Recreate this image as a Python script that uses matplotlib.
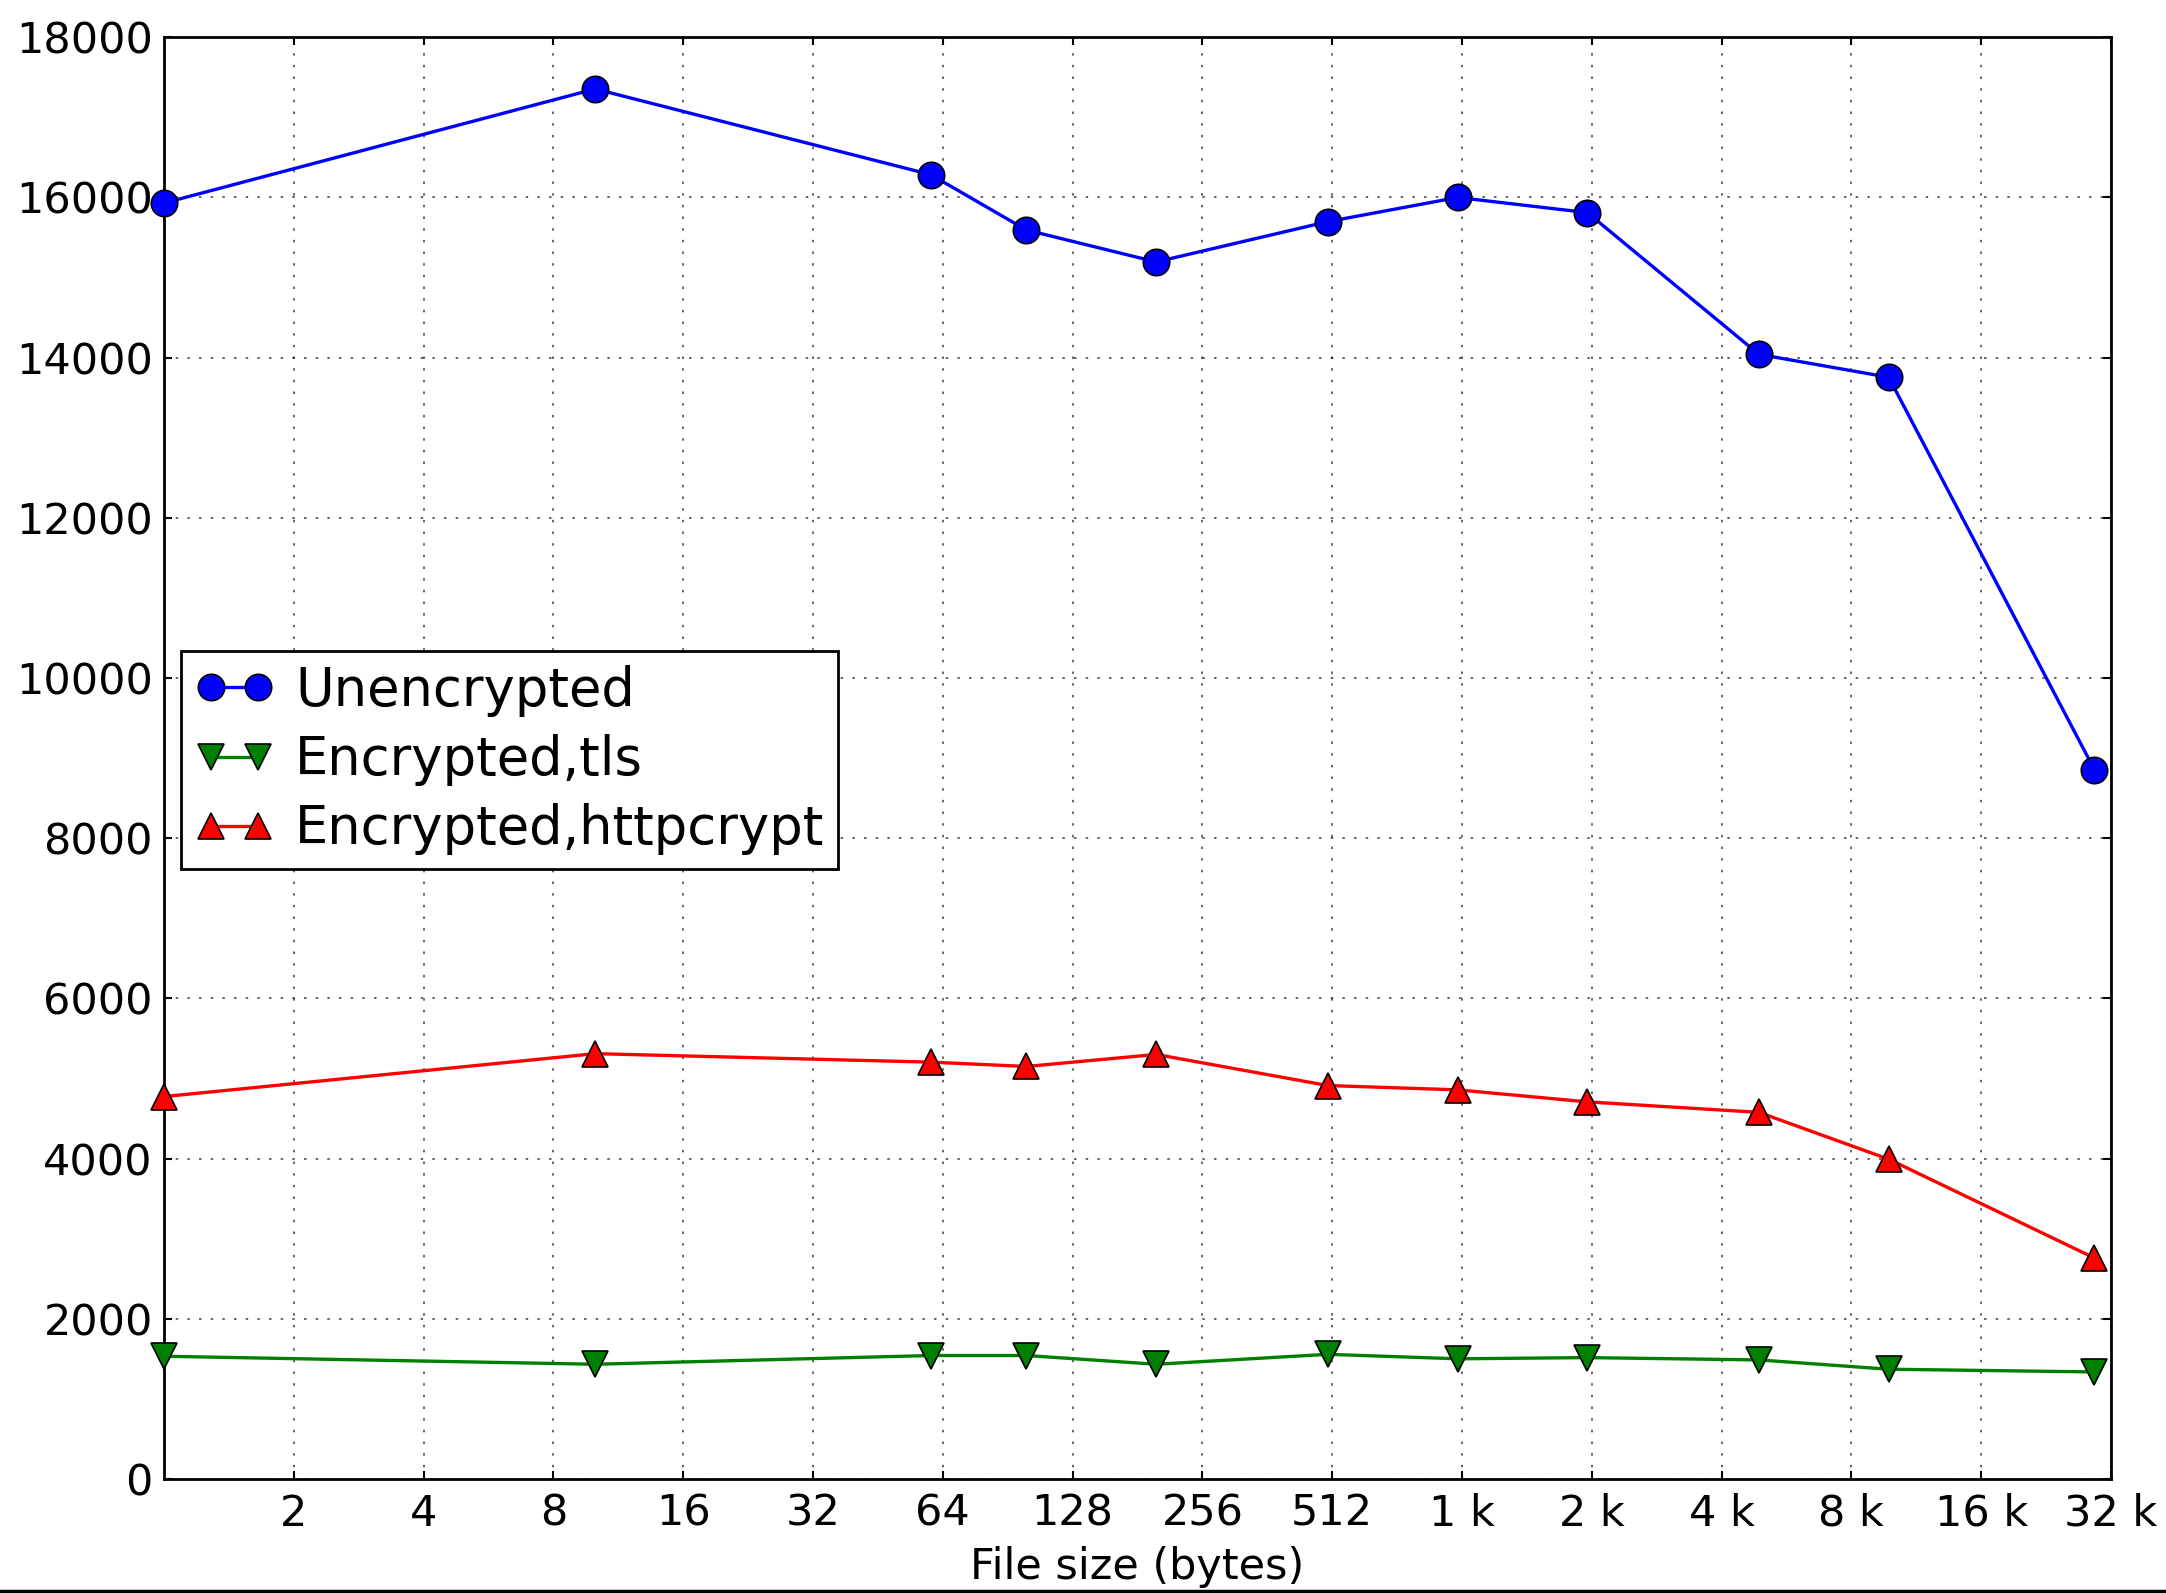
import numpy as np
import matplotlib
matplotlib.use("Agg")
import matplotlib.pyplot as plt
from matplotlib.lines import Line2D

# file sizes (bytes) and throughput per series
sizes = [1, 10, 60, 100, 200, 500, 1000, 2000, 5000, 10000, 30000]
unencrypted = [15930, 17355, 16285, 15594, 15195, 15698, 16000, 15811, 14041, 13755, 8854]
tls = [1532, 1432, 1541, 1541, 1432, 1556, 1500, 1515, 1486, 1370, 1336]
httpcrypt = [4774, 5310, 5204, 5150, 5300, 4912, 4858, 4708, 4577, 3992, 2758]

xticks = [2 ** i for i in range(1, 16)]
xticklabels = ['2', '4', '8', '16', '32', '64', '128', '256', '512',
               '1 k', '2 k', '4 k', '8 k', '16 k', '32 k']
yticks = list(range(0, 18001, 2000))

TICK_FS = 31
LEGEND_FS = 38

fig = plt.figure(figsize=(21.66, 15.93), dpi=100)
ax = fig.add_axes([0.0757, 0.0716, 0.9746 - 0.0757, 0.9766 - 0.0716])

kw = dict(lw=2.4, ms=19, mec='k', mew=1.2, clip_on=False, zorder=3)
ax.plot(sizes, unencrypted, 'o-', color='b', label='Unencrypted', **kw)
ax.plot(sizes, tls, 'v-', color=(0, 0.5, 0), label='Encrypted,tls', **kw)
ax.plot(sizes, httpcrypt, '^-', color='r', label='Encrypted,httpcrypt', **kw)

ax.set_xscale('log', base=2)
ax.set_xlim(1, 32768)
ax.set_ylim(0, 18000)
ax.set_xticks(xticks)
ax.set_xticklabels(xticklabels)
ax.minorticks_off()
ax.set_yticks(yticks)
ax.tick_params(direction='in', length=6, width=1.5, top=True, right=True,
               labelsize=TICK_FS, colors='k')
ax.tick_params(axis='x', pad=10)
ax.tick_params(axis='y', pad=8)
for sp in ax.spines.values():
    sp.set_linewidth(2)

ax.grid(True, color='k', lw=1.2, ls=(0, (1.5, 5.5)), alpha=0.7)
ax.set_axisbelow(True)

ax.set_xlabel('File size (bytes)', fontsize=TICK_FS, labelpad=8)

leg = ax.legend(loc='upper left', bbox_to_anchor=(0.009, 0.574), borderaxespad=0,
                fontsize=LEGEND_FS, numpoints=2, handlelength=1.5, handletextpad=0.4,
                borderpad=0.25, labelspacing=0.33, fancybox=False, framealpha=1,
                edgecolor='k')
leg.get_frame().set_linewidth(2)

fig.add_artist(Line2D([0, 1], [0.001, 0.001], color='k', lw=2.5, transform=fig.transFigure))

fig.savefig('out.png', dpi=100)
